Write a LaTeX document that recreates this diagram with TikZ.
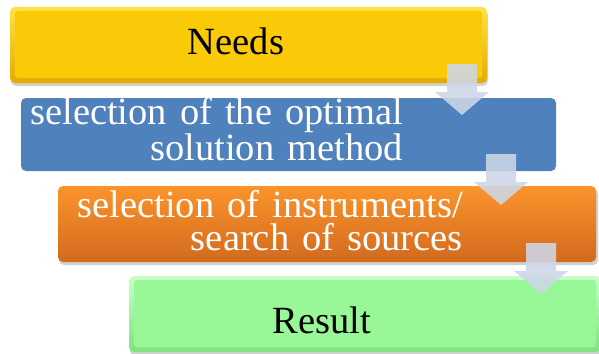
\documentclass[tikz,border=0pt]{standalone}
\usepackage{fontspec}
\setmainfont{Liberation Serif}
\usetikzlibrary{calc}

\definecolor{needsyellow}{RGB}{250,201,8}
\definecolor{needstop}{RGB}{255,226,70}
\definecolor{needsbottom}{RGB}{226,172,0}
\definecolor{methodblue}{RGB}{79,129,189}
\definecolor{sourcetop}{RGB}{251,148,44}
\definecolor{sourcebottom}{RGB}{210,106,30}
\definecolor{resultgreen}{RGB}{152,248,152}
\definecolor{resulttop}{RGB}{200,255,200}
\definecolor{resultbottom}{RGB}{128,226,128}
\definecolor{arrowfill}{RGB}{206,215,232}

% step label font: large serif with slightly wider word spaces
\newcommand\steplabelfont{\fontsize{38.5}{32.5}\selectfont\spaceskip 13pt plus 2pt\relax}

\begin{document}
\begin{tikzpicture}[x=1pt,y=-1pt,
  box/.style={draw=none, rounded corners=5pt, anchor=north west, inner sep=0pt, outer sep=0pt},
  boxshadow/.style={fill=black, fill opacity=0.18, rounded corners=5pt},
  bevel/.style={rounded corners=3pt},
  label/.style={font=\steplabelfont, align=right, inner sep=0pt},
  flowarrow/.style={fill=arrowfill, fill opacity=0.88, draw=none}]
\useasboundingbox (0,0) rectangle (599,353);
\fill[white] (0,0) rectangle (599,353);

% soft shadows under the boxes
\fill[boxshadow] (11,10) rectangle (488,86);
\fill[boxshadow] (59,189) rectangle (598,265);
\fill[boxshadow] (130,279) rectangle (601,356);

% Needs (bevelled yellow box)
\node[box, top color=needstop, bottom color=needsbottom,
      minimum width=477pt, minimum height=76pt] (needs) at (10,7) {};
\fill[needsyellow, bevel] ($(needs.north west)+(5,4)$) rectangle ($(needs.south east)+(-5,-5)$);

% solution method (flat blue box)
\node[box, fill=methodblue, minimum width=535pt, minimum height=73pt] (method) at (21,98) {};

% instruments and sources (orange gradient box)
\node[box, top color=sourcetop, bottom color=sourcebottom,
      minimum width=538pt, minimum height=76pt] (source) at (58,186) {};

% Result (bevelled green box)
\node[box, top color=resulttop, bottom color=resultbottom,
      minimum width=472pt, minimum height=76pt] (result) at (129,276) {};
\fill[resultgreen, bevel] ($(result.north west)+(5,4)$) rectangle ($(result.south east)+(-5,-5)$);

% texts (base anchor of a two-line label sits on its last line)
\node[label, anchor=base] (needstext) at (236,55) {Needs};
\node[label, text=white, anchor=base east] (methodtext) at (403,160)
  {selection of the optimal\\solution method};
\node[label, text=white, anchor=base east] (sourcetext) at (463,250)
  {selection of instruments/\\search of sources};
\node[label, anchor=base] (resulttext) at (322,333) {Result};

% block arrows between the steps
\coordinate (a1) at (462,64);
\coordinate (a2) at (501,154);
\coordinate (a3) at (541,243);
\foreach \a in {a1,a2,a3}{
  \fill[flowarrow] (\a) ++(-15,0) -- ++(30,0) -- ++(0,28) -- ++(12,0)
    -- ++(-27,23) -- ++(-27,-23) -- ++(12,0) -- cycle;
}
\end{tikzpicture}
\end{document}
